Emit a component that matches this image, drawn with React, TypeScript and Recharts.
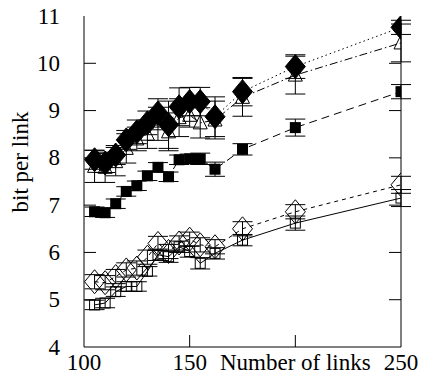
import React from 'react';
import { ComposedChart, Line, XAxis, YAxis, ErrorBar, Label } from 'recharts';

const links = [105, 110, 115, 120, 125, 130, 135, 140, 145, 150, 155, 162, 175, 200, 250];

const filledDiamond = [7.96, 7.89, 8.06, 8.38, 8.55, 8.74, 8.95, 8.70, 9.08, 9.19, 9.19, 8.87, 9.40, 9.93, 10.76];
const filledDiamondErr = [0.2, 0.2, 0.2, 0.2, 0.25, 0.25, 0.3, 0.5, 0.4, 0.3, 0.3, 0.42, 0.3, 0.25, 0.15];

const openTriangle = [7.82, 7.80, 7.92, 8.20, 8.40, 8.50, 8.72, 8.55, 8.85, 8.90, 8.74, 8.80, 9.28, 9.75, 10.43];
const openTriangleErr = [0.34, 0.32, 0.3, 0.31, 0.25, 0.3, 0.35, 0.4, 0.4, 0.25, 0.32, 0.4, 0.4, 0.4, 0.4];

const filledSquare = [6.86, 6.84, 7.03, 7.29, 7.41, 7.62, 7.80, 7.60, 7.96, 7.98, 7.98, 7.76, 8.18, 8.64, 9.40];
const filledSquareErr = [0.1, 0.1, 0.1, 0.1, 0.1, 0.1, 0.1, 0.1, 0.1, 0.1, 0.12, 0.15, 0.12, 0.18, 0.15];

const openDiamond = [5.38, 5.36, 5.49, 5.63, 5.67, 5.90, 6.19, 6.02, 6.20, 6.28, 6.16, 6.12, 6.50, 6.86, 7.43];
const openDiamondErr = [0.15, 0.15, 0.15, 0.15, 0.15, 0.15, 0.15, 0.15, 0.15, 0.15, 0.15, 0.15, 0.15, 0.15, 0.18];

const openSquare = [4.89, 4.93, 5.17, 5.28, 5.28, 5.60, 5.95, 5.91, 6.12, 6.02, 5.77, 5.98, 6.26, 6.62, 7.15];
const openSquareErr = [0.1, 0.1, 0.1, 0.1, 0.1, 0.1, 0.12, 0.12, 0.12, 0.12, 0.12, 0.12, 0.12, 0.15, 0.18];

const xTicks = [100, 150, 200, 250];
const xTickLabels: Record<number, string> = { 100: '100', 150: '150', 200: 'Number of links', 250: '250' };
const yTicks = [4, 5, 6, 7, 8, 9, 10, 11];
const yLabel = 'bit per link';

const rows = links.map((x, i) => ({
  x,
  fd: filledDiamond[i], fdE: filledDiamondErr[i],
  tr: openTriangle[i], trE: openTriangleErr[i],
  fs: filledSquare[i], fsE: filledSquareErr[i],
  od: openDiamond[i], odE: openDiamondErr[i],
  os: openSquare[i], osE: openSquareErr[i],
}));

const FONT = 'Liberation Serif';
const FS = 23;
const TL = 12;

const BottomTick = (p: any) => {
  const { x, y, payload } = p;
  const v = payload.value;
  return (
    <g>
      {v !== 100 && v !== 250 && <line x1={x} y1={y} x2={x} y2={y - TL} stroke="#000" />}
      <text x={x} y={y + 23} textAnchor="middle" fontFamily={FONT} fontSize={FS} fill="#000">
        {xTickLabels[v] ?? String(v)}
      </text>
    </g>
  );
};

const TopTick = (p: any) => {
  const { x, y, payload } = p;
  const v = payload.value;
  if (v === 100 || v === 250) return <g />;
  return <line x1={x} y1={y} x2={x} y2={y + TL} stroke="#000" />;
};

const LeftTick = (p: any) => {
  const { x, y, payload } = p;
  const v = payload.value;
  return (
    <g>
      {v !== 4 && v !== 11 && <line x1={x} y1={y} x2={x + TL} y2={y} stroke="#000" />}
      <text x={x - 24} y={y + 7.5} textAnchor="end" fontFamily={FONT} fontSize={FS} fill="#000">
        {String(v)}
      </text>
    </g>
  );
};

const RightTick = (p: any) => {
  const { x, y, payload } = p;
  const v = payload.value;
  if (v === 4 || v === 11) return <g />;
  return <line x1={x} y1={y} x2={x - TL} y2={y} stroke="#000" />;
};

const mk = (render: (cx: number, cy: number) => React.ReactElement) => (p: any) => {
  const { cx, cy, index } = p;
  if (cx == null || cy == null) return <g key={`n${index}`} />;
  return <g key={`d${index}`}>{render(cx, cy)}</g>;
};

const fdDot = mk((cx, cy) => (
  <polygon points={`${cx},${cy - 12} ${cx + 10},${cy} ${cx},${cy + 12} ${cx - 10},${cy}`} fill="#000" stroke="#000" />
));
const trDot = mk((cx, cy) => (
  <polygon points={`${cx},${cy - 8} ${cx + 7},${cy + 6} ${cx - 7},${cy + 6}`} fill="none" stroke="#000" />
));
const fsDot = mk((cx, cy) => <rect x={cx - 5.5} y={cy - 5.5} width={11} height={11} fill="#000" />);
const odDot = mk((cx, cy) => (
  <polygon points={`${cx},${cy - 12} ${cx + 10},${cy} ${cx},${cy + 12} ${cx - 10},${cy}`} fill="none" stroke="#000" />
));
const osDot = mk((cx, cy) => <rect x={cx - 5} y={cy - 5} width={10} height={10} fill="none" stroke="#000" />);

const YLabelContent = (p: any) => {
  const vb = p.viewBox || { x: 0, y: 16 };
  const cx = vb.x + 28;
  const cy = 162;
  return (
    <text x={cx} y={cy} transform={`rotate(-90 ${cx} ${cy})`} textAnchor="middle" fontFamily={FONT} fontSize={FS} fill="#000">
      {yLabel}
    </text>
  );
};

export default function App() {
  return (
    <div style={{ position: 'absolute', left: 0, top: 0 }}>
      <ComposedChart width={435} height={378} data={rows} margin={{ top: 16, right: 0, bottom: 0, left: 0 }}
        style={{ fontFamily: FONT }}>
        <XAxis xAxisId="b" dataKey="x" type="number" domain={[100, 250]} ticks={xTicks} interval={0}
          tick={<BottomTick />} tickLine={false} tickSize={0} tickMargin={0} height={31}
          axisLine={{ stroke: '#000' }} allowDataOverflow />
        <XAxis xAxisId="t" orientation="top" dataKey="x" type="number" domain={[100, 250]} ticks={xTicks} interval={0}
          tick={<TopTick />} tickLine={false} tickSize={0} tickMargin={0} height={0}
          axisLine={{ stroke: '#000' }} allowDataOverflow />
        <YAxis yAxisId="l" type="number" domain={[4, 11]} ticks={yTicks} interval={0}
          tick={<LeftTick />} tickLine={false} tickSize={0} tickMargin={0} width={84}
          axisLine={{ stroke: '#000' }} allowDataOverflow>
          <Label content={<YLabelContent />} />
        </YAxis>
        <YAxis yAxisId="r" orientation="right" type="number" domain={[4, 11]} ticks={yTicks} interval={0}
          tick={<RightTick />} tickLine={false} tickSize={0} tickMargin={0} width={34}
          axisLine={{ stroke: '#000' }} allowDataOverflow />

        <Line xAxisId="t" yAxisId="r" dataKey="os" stroke="#000" strokeWidth={1} dot={osDot} isAnimationActive={false} activeDot={false}>
          <ErrorBar dataKey="osE" width={10} stroke="#000" strokeWidth={1} direction="y" />
        </Line>
        <Line xAxisId="b" yAxisId="l" dataKey="od" stroke="#000" strokeWidth={1} strokeDasharray="4 4" dot={odDot} isAnimationActive={false} activeDot={false}>
          <ErrorBar dataKey="odE" width={10} stroke="#000" strokeWidth={1} direction="y" />
        </Line>
        <Line xAxisId="b" yAxisId="l" dataKey="fs" stroke="#000" strokeWidth={1} strokeDasharray="8 5" dot={fsDot} isAnimationActive={false} activeDot={false}>
          <ErrorBar dataKey="fsE" width={10} stroke="#000" strokeWidth={1} direction="y" />
        </Line>
        <Line xAxisId="b" yAxisId="l" dataKey="tr" stroke="#000" strokeWidth={1} strokeDasharray="8 3 1.5 3" dot={trDot} isAnimationActive={false} activeDot={false}>
          <ErrorBar dataKey="trE" width={10} stroke="#000" strokeWidth={1} direction="y" />
        </Line>
        <Line xAxisId="b" yAxisId="l" dataKey="fd" stroke="#000" strokeWidth={1} strokeDasharray="1.5 3" dot={fdDot} isAnimationActive={false} activeDot={false}>
          <ErrorBar dataKey="fdE" width={10} stroke="#000" strokeWidth={1} direction="y" />
        </Line>
      </ComposedChart>
    </div>
  );
}
